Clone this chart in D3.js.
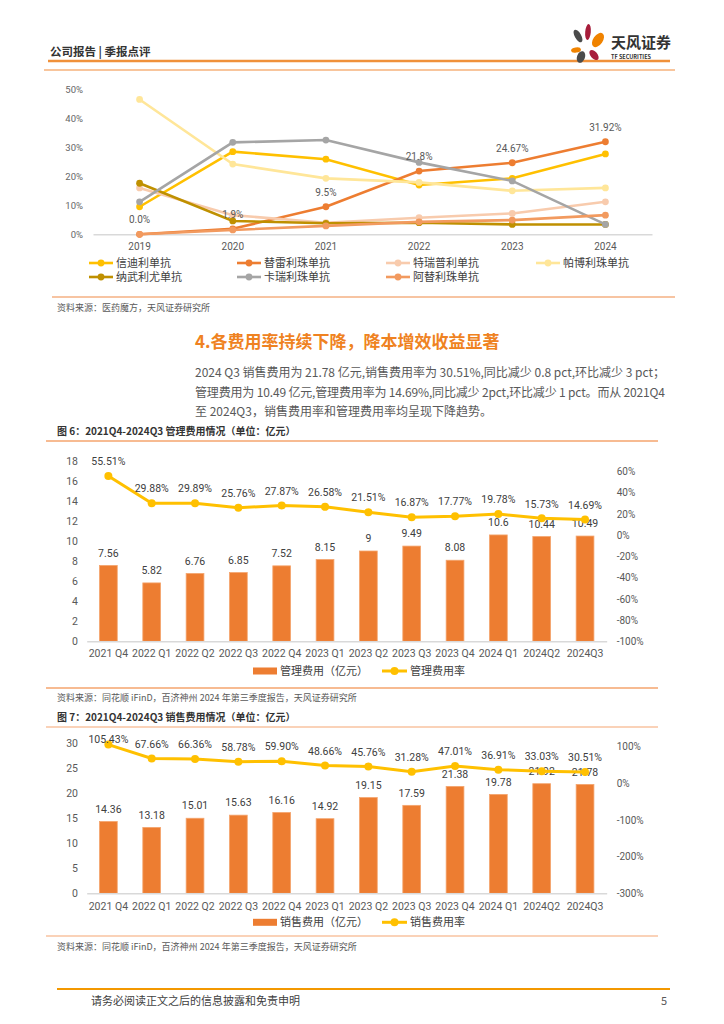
<!DOCTYPE html>
<html>
<head>
<meta charset="utf-8">
<script src="https://cdn.jsdelivr.net/npm/d3@7/dist/d3.min.js"></script>
<style>
  body { margin: 0; background: #fff; }
  svg { display: block; }
  text { font-family: 'Noto Sans CJK SC', 'Noto Sans', sans-serif; }
  .num { font-family: Roboto, 'Noto Sans', sans-serif; }
</style>
</head>
<body>
<svg id="page" width="724" height="1024"></svg>
<script>
// top chart (market share of PD-1 products)
const years = ['2019', '2020', '2021', '2022', '2023', '2024'];
const shareTicks = [0, 10, 20, 30, 40, 50];
const xindili = [9.5, 28.5, 25.9, 17.0, 19.3, 27.7];
const tilei = [0.0, 1.9, 9.5, 21.8, 24.67, 31.92];
const tilabels = ['0.0%', '1.9%', '9.5%', '21.8%', '24.67%', '31.92%'];
const teruipu = [16.0, 6.6, 4.0, 5.7, 7.2, 11.2];
const pabo = [46.5, 24.2, 19.3, 17.9, 15.0, 16.0];
const nawu = [17.6, 4.6, 3.8, 4.0, 3.4, 3.4];
const karui = [11.2, 31.7, 32.5, 24.8, 18.4, 3.4];
const atili = [0.0, 1.5, 2.9, 4.3, 4.9, 6.6];
const drugNames = ['信迪利单抗', '替雷利珠单抗', '特瑞普利单抗', '帕博利珠单抗',
  '纳武利尤单抗', '卡瑞利珠单抗', '阿替利珠单抗'];

// fig 6 / fig 7
const quarters = ['2021 Q4', '2022 Q1', '2022 Q2', '2022 Q3', '2022 Q4', '2023 Q1',
  '2023 Q2', '2023 Q3', '2023 Q4', '2024 Q1', '2024Q2', '2024Q3'];
const adminCost = [7.56, 5.82, 6.76, 6.85, 7.52, 8.15, 9, 9.49, 8.08, 10.6, 10.44, 10.49];
const adminRate = [55.51, 29.88, 29.89, 25.76, 27.87, 26.58, 21.51, 16.87, 17.77, 19.78, 15.73, 14.69];
const salesCost = [14.36, 13.18, 15.01, 15.63, 16.16, 14.92, 19.15, 17.59, 21.38, 19.78, 21.92, 21.78];
const salesRate = [105.43, 67.66, 66.36, 58.78, 59.90, 48.66, 45.76, 31.28, 47.01, 36.91, 33.03, 30.51];
const adminTicksL = [0, 2, 4, 6, 8, 10, 12, 14, 16, 18];
const adminTicksR = [-100, -80, -60, -40, -20, 0, 20, 40, 60];
const salesTicksL = [0, 5, 10, 15, 20, 25, 30];
const salesTicksR = [-300, -200, -100, 0, 100];

const svg = d3.select('#page');
svg.append('rect').attr('width', 724).attr('height', 1024).attr('fill', '#fff');

function hline(x1, x2, y, color, w) {
  svg.append('line')
    .attr('x1', x1).attr('x2', x2).attr('y1', y).attr('y2', y)
    .attr('stroke', color).attr('stroke-width', w);
}

function txt(x, y, s, size, color, opts = {}) {
  const t = svg.append('text')
    .attr('x', x).attr('y', y)
    .attr('dy', '0.35em')
    .attr('font-size', size)
    .attr('fill', color)
    .attr('font-weight', opts.bold ? 'bold' : 'normal')
    .attr('text-anchor', opts.anchor || 'start')
    .text(s);
  if (opts.len) t.attr('textLength', opts.len).attr('lengthAdjust', 'spacing');
  return t;
}

// ---- header ----
txt(50, 52, '公司报告 | 季报点评', 11.5, '#333', { bold: true });
hline(48, 670, 61, '#f0913a', 2.5);
hline(44, 675, 70, '#f8c59c', 2);

const logo = svg.append('g');
[
  [578, 36, 3.2, 7, -30, '#4b4b4b'],
  [588, 32, 2.8, 8, 5, '#a71d3b'],
  [598, 40, 4.8, 8, 35, '#f08300'],
  [576, 50, 5, 2.6, -10, '#f08300'],
  [594, 55, 3.4, 6, -40, '#a71d3b'],
  [581, 57, 4, 6, 20, '#4b4b4b'],
].forEach(([cx, cy, rx, ry, r, c]) => {
  logo.append('ellipse')
    .attr('cx', cx).attr('cy', cy).attr('rx', rx).attr('ry', ry)
    .attr('transform', `rotate(${r},${cx},${cy})`)
    .attr('fill', c);
});
txt(611, 43, '天风证券', 15, '#333', { bold: true });
txt(611, 57, 'TF SECURITIES', 5.5, '#333', { bold: true });

// ---- top chart ----
const topColors = ['#ffc000', '#ed7d31', '#f8cbad', '#ffe699', '#bf9000', '#a5a5a5', '#f29a5f'];
const topValues = [xindili, tilei, teruipu, pabo, nawu, karui, atili];
const topSeries = drugNames.map((name, i) => ({ name, color: topColors[i], values: topValues[i] }));

const xTop = d3.scaleBand().domain(years).range([93, 652]);
const yTop = d3.scaleLinear().domain([0, 50]).range([234.3, 89.3]);
const cx = d => xTop(d) + xTop.bandwidth() / 2;

svg.append('g')
  .attr('transform', 'translate(93,0)')
  .call(d3.axisLeft(yTop).tickValues(shareTicks).tickSize(0).tickPadding(10)
    .tickFormat(d => `${d}%`))
  .call(g => g.select('.domain').remove())
  .selectAll('text')
  .attr('class', 'num')
  .attr('font-size', 9.5)
  .attr('fill', '#666');

svg.append('g')
  .attr('transform', `translate(0,${yTop(0)})`)
  .call(d3.axisBottom(xTop).tickSize(0).tickSizeOuter(0).tickPadding(9))
  .call(g => g.select('.domain').attr('stroke', '#d9d9d9').attr('stroke-width', 1.5))
  .selectAll('text')
  .attr('class', 'num')
  .attr('font-size', 10)
  .attr('fill', '#595959');

const topLine = d3.line().x((d, i) => cx(years[i])).y(d => yTop(d));
topSeries.forEach((s) => {
  const g = svg.append('g');
  g.append('path')
    .datum(s.values)
    .attr('d', topLine)
    .attr('fill', 'none')
    .attr('stroke', s.color)
    .attr('stroke-width', 2.6);
  g.selectAll('circle').data(s.values).enter()
    .append('circle')
    .attr('cx', (d, i) => cx(years[i]))
    .attr('cy', d => yTop(d))
    .attr('r', 3.4)
    .attr('fill', s.color);
});

svg.append('g').selectAll('text').data(tilei).enter()
  .append('text')
  .attr('class', 'num')
  .attr('x', (d, i) => cx(years[i]))
  .attr('y', d => yTop(d) - 14.5)
  .attr('dy', '0.35em')
  .attr('text-anchor', 'middle')
  .attr('font-size', 10)
  .attr('fill', '#595959')
  .text((d, i) => tilabels[i]);

const legCols = [89, 237, 386, 536];
const legRows = [263, 277];
topSeries.forEach((s, i) => {
  const lx = legCols[i % 4];
  const ly = legRows[Math.floor(i / 4)];
  svg.append('line')
    .attr('x1', lx).attr('x2', lx + 24).attr('y1', ly).attr('y2', ly)
    .attr('stroke', s.color).attr('stroke-width', 2.6);
  svg.append('circle').attr('cx', lx + 12).attr('cy', ly).attr('r', 3.4).attr('fill', s.color);
  txt(lx + 27, ly, s.name, 11, '#404040');
});

hline(52, 675, 297, '#f4b183', 1.5);
txt(57, 308, '资料来源：医药魔方，天风证券研究所', 9, '#595959');

// ---- section text ----
txt(195, 342, '4.各费用率持续下降，降本增效收益显著', 17, '#ef8221', { bold: true });
txt(195, 373, '2024 Q3 销售费用为 21.78 亿元,销售费用率为 30.51%,同比减少 0.8 pct,环比减少 3 pct；',
  12, '#595959', { len: 470 });
txt(195, 393, '管理费用为 10.49 亿元,管理费用率为 14.69%,同比减少 2pct,环比减少 1 pct。而从 2021Q4',
  12, '#595959', { len: 470 });
txt(195, 412, '至 2024Q3，销售费用率和管理费用率均呈现下降趋势。', 12, '#595959');

// ---- combo charts ----
function comboChart(cfg) {
  const x = d3.scaleBand().domain(quarters).range([86.7, 606.7])
    .paddingInner(0.59).paddingOuter(0.295);
  const yL = d3.scaleLinear().domain(cfg.domL).range([cfg.bottom, cfg.top]);
  const yR = d3.scaleLinear().domain(cfg.domR).range([cfg.bottom, cfg.top]);
  const mid = d => x(d) + x.bandwidth() / 2;

  svg.append('g')
    .attr('transform', 'translate(86.7,0)')
    .call(d3.axisLeft(yL).tickValues(cfg.ticksL).tickSize(0).tickPadding(8.7))
    .call(g => g.select('.domain').remove())
    .selectAll('text')
    .attr('class', 'num')
    .attr('font-size', 10.5)
    .attr('fill', '#595959');

  svg.append('g')
    .attr('transform', 'translate(606.7,0)')
    .call(d3.axisRight(yR).tickValues(cfg.ticksR).tickSize(0).tickPadding(10)
      .tickFormat(d => `${d}%`))
    .call(g => g.select('.domain').remove())
    .selectAll('text')
    .attr('class', 'num')
    .attr('font-size', 10)
    .attr('fill', '#595959');

  svg.append('g').selectAll('rect').data(cfg.bars).enter()
    .append('rect')
    .attr('x', (d, i) => x(quarters[i]))
    .attr('width', x.bandwidth())
    .attr('y', d => yL(d))
    .attr('height', d => yL(0) - yL(d))
    .attr('fill', '#ed7d31')
    .attr('stroke', '#f4a56e')
    .attr('stroke-width', 0.8);

  svg.append('g')
    .attr('transform', `translate(0,${cfg.bottom})`)
    .call(d3.axisBottom(x).tickSize(0).tickSizeOuter(0).tickPadding(cfg.xPad))
    .call(g => g.select('.domain').attr('stroke', '#d9d9d9').attr('stroke-width', 1.5))
    .selectAll('text')
    .attr('class', 'num')
    .attr('font-size', 10.5)
    .attr('fill', '#595959');

  svg.append('g').selectAll('text').data(cfg.bars).enter()
    .append('text')
    .attr('class', 'num')
    .attr('x', (d, i) => mid(quarters[i]))
    .attr('y', d => yL(d) - 12.5)
    .attr('dy', '0.35em')
    .attr('text-anchor', 'middle')
    .attr('font-size', 10.5)
    .attr('fill', '#404040')
    .text(d => `${d}`);

  const line = d3.line().x((d, i) => mid(quarters[i])).y(d => yR(d));
  svg.append('path')
    .datum(cfg.rates)
    .attr('d', line)
    .attr('fill', 'none')
    .attr('stroke', '#ffc000')
    .attr('stroke-width', 3);
  svg.append('g').selectAll('circle').data(cfg.rates).enter()
    .append('circle')
    .attr('cx', (d, i) => mid(quarters[i]))
    .attr('cy', d => yR(d))
    .attr('r', 4)
    .attr('fill', '#ffc000');

  // labels are kept inside the plot area, as the spreadsheet does
  svg.append('g').selectAll('text').data(cfg.rates).enter()
    .append('text')
    .attr('class', 'num')
    .attr('x', (d, i) => mid(quarters[i]))
    .attr('y', d => Math.max(yR(d) - 14.5, cfg.top - 4))
    .attr('dy', '0.35em')
    .attr('text-anchor', 'middle')
    .attr('font-size', 10.5)
    .attr('fill', '#404040')
    .text(d => `${d.toFixed(2)}%`);

  const ly = cfg.legendY;
  svg.append('rect').attr('x', 253).attr('y', ly - 3.5).attr('width', 24).attr('height', 7)
    .attr('fill', '#ed7d31');
  txt(280, ly, cfg.barName, 11, '#404040');
  svg.append('line').attr('x1', 382).attr('x2', 407).attr('y1', ly).attr('y2', ly)
    .attr('stroke', '#ffc000').attr('stroke-width', 3);
  svg.append('circle').attr('cx', 394.5).attr('cy', ly).attr('r', 4).attr('fill', '#ffc000');
  txt(410, ly, cfg.lineName, 11, '#404040');
}

txt(57, 431.7, '图 6：2021Q4-2024Q3 管理费用情况（单位：亿元）', 10, '#333', { bold: true });
hline(46, 658, 441, '#f4a56e', 1.5);
comboChart({
  bars: adminCost, rates: adminRate,
  domL: [0, 18], domR: [-100, 70], ticksL: adminTicksL, ticksR: adminTicksR,
  top: 460.7, bottom: 641.3, xPad: 8.3, legendY: 671,
  barName: '管理费用（亿元）', lineName: '管理费用率',
});
hline(46, 658, 688, '#f4a56e', 1.5);
txt(57, 698, '资料来源：同花顺 iFinD，百济神州 2024 年第三季度报告，天风证券研究所', 9, '#595959');

txt(57, 717, '图 7：2021Q4-2024Q3 销售费用情况（单位：亿元）', 10, '#333', { bold: true });
hline(46, 658, 727, '#f8c3a0', 1.5);
comboChart({
  bars: salesCost, rates: salesRate,
  domL: [0, 30], domR: [-300, 109], ticksL: salesTicksL, ticksR: salesTicksR,
  top: 743.3, bottom: 893.3, xPad: 9, legendY: 922.3,
  barName: '销售费用（亿元）', lineName: '销售费用率',
});
hline(46, 658, 936, '#f8c3a0', 1.5);
txt(57, 946.7, '资料来源：同花顺 iFinD，百济神州 2024 年第三季度报告，天风证券研究所', 9, '#595959');

// ---- footer ----
hline(57, 670, 989, '#f39800', 2);
txt(91, 1000.7, '请务必阅读正文之后的信息披露和免责申明', 11, '#404040');
txt(667, 1000.7, '5', 11, '#595959', { anchor: 'end' });
</script>
</body>
</html>
